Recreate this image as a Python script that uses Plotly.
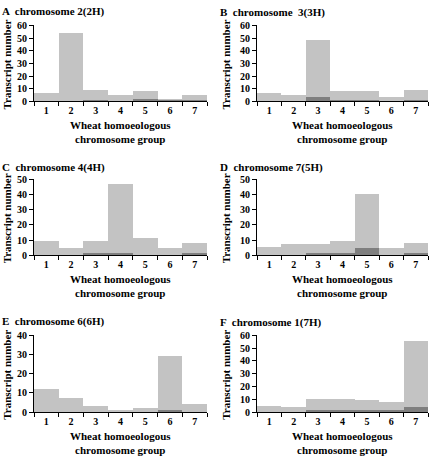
import plotly.graph_objects as go

groups = ["1", "2", "3", "4", "5", "6", "7"]
titles = ["A  chromosome 2(2H)", "B  chromosome  3(3H)", "C  chromosome 4(4H)",
          "D  chromosome 7(5H)", "E  chromosome 6(6H)", "F  chromosome 1(7H)"]
total_A = [6, 54, 8.5, 5, 7.5, 1, 5]
dark_A = [0, 0, 0.5, 0, 1.5, 0.5, 0.5]
total_B = [6, 5, 48, 7.5, 7.5, 3, 8.5]
dark_B = [0, 0, 3.5, 0.5, 0.5, 0, 0.5]
total_C = [9, 4.5, 9, 47, 11, 4.5, 8]
dark_C = [0, 0, 1.5, 1.5, 0, 0, 1.5]
total_D = [5, 7, 7, 9, 40, 4.5, 8]
dark_D = [0, 0, 1.5, 1, 4.5, 0, 1.5]
total_E = [12, 7, 3, 0.8, 2, 29, 4]
dark_E = [0, 0, 0, 0, 0, 0.8, 0]
total_F = [5, 4, 10, 10, 9, 7.5, 55]
dark_F = [0, 0, 1.5, 1, 1.5, 1, 3.5]
ymax = [60, 60, 50, 50, 40, 60]
ydtick = [10, 10, 10, 10, 10, 10]

totals = [total_A, total_B, total_C, total_D, total_E, total_F]
darks = [dark_A, dark_B, dark_C, dark_D, dark_E, dark_F]

W, H = 430, 463
xdoms = [(34, 207), (257, 428)]
ydoms = [(20, 98), (178, 256), (338, 417)]
title_y = [6, 7, 166, 166, 324, 325]
title_x = [1, 219]
ytitle_off = [27, 31]

LIGHT = "#c3c3c3"
DARK = "#7f7f7f"
FONT = "Liberation Serif"

fig = go.Figure()
annotations = []
for i in range(6):
    row, col = divmod(i, 2)
    n = i + 1
    xa = "x" if n == 1 else f"x{n}"
    ya = "y" if n == 1 else f"y{n}"
    fig.add_trace(go.Bar(x=groups, y=totals[i], marker=dict(color=LIGHT, line=dict(width=0)),
                         xaxis=xa, yaxis=ya, showlegend=False))
    fig.add_trace(go.Bar(x=groups, y=darks[i], marker=dict(color=DARK, line=dict(width=0)),
                         xaxis=xa, yaxis=ya, showlegend=False))
    x0, x1 = xdoms[col]
    y0, y1 = ydoms[row]
    axkey = "xaxis" if n == 1 else f"xaxis{n}"
    aykey = "yaxis" if n == 1 else f"yaxis{n}"
    fig.layout[axkey] = dict(domain=[x0 / W, x1 / W], anchor=ya, type="category",
                             showline=True, linecolor="black", linewidth=1,
                             ticks="outside", tickson="boundaries", ticklen=4, tickcolor="black",
                             tickfont=dict(family=FONT, size=10, color="black", weight="bold"),
                             showgrid=False, zeroline=False, fixedrange=True)
    fig.layout[aykey] = dict(domain=[1 - y1 / H, 1 - y0 / H], anchor=xa,
                             range=[0, ymax[i]], dtick=ydtick[i],
                             showline=True, linecolor="black", linewidth=1,
                             ticks="outside", ticklen=4, tickcolor="black",
                             tickfont=dict(family=FONT, size=10, color="black", weight="bold"),
                             showgrid=False, zeroline=False, fixedrange=True)
    # panel title
    annotations.append(dict(x=title_x[col] / W, y=1 - title_y[i] / H,
                            xref="paper", yref="paper", xanchor="left", yanchor="middle",
                            text="<b>" + titles[i] + "</b>", showarrow=False, borderpad=0,
                            font=dict(family=FONT, size=11, color="black")))
    # x axis title
    annotations.append(dict(x=(x0 + x1) / 2 / W, y=1 - (y1 + 16) / H,
                            xref="paper", yref="paper", xanchor="center", yanchor="top",
                            text="<b>Wheat homoeologous<br>chromosome group</b>", showarrow=False,
                            font=dict(family=FONT, size=11, color="black")))
    # y axis title
    annotations.append(dict(x=(x0 - ytitle_off[col]) / W, y=1 - ((y0 + y1) / 2 + 1) / H,
                            xref="paper", yref="paper", xanchor="center", yanchor="middle",
                            text="<b>Transcript number</b>", showarrow=False, textangle=-90,
                            borderpad=0, font=dict(family=FONT, size=11, color="black")))

fig.update_layout(width=W, height=H, margin=dict(l=0, r=0, t=0, b=0),
                  barmode="overlay", bargap=0, plot_bgcolor="white", paper_bgcolor="white",
                  annotations=annotations, showlegend=False)
fig.write_html("out.html", config={"displayModeBar": False},
               post_script="document.body.style.margin='0';document.body.style.overflow='hidden';")
